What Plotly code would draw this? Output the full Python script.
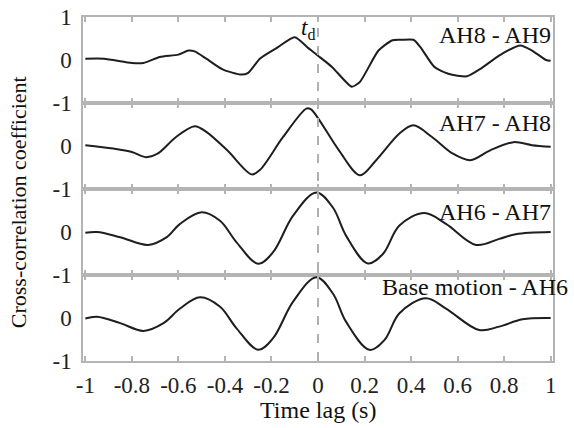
import plotly.graph_objects as go
from plotly.subplots import make_subplots

# ---- data ----
t_ah89 = [-1.0, -0.92, -0.8, -0.75, -0.68, -0.6, -0.557, -0.53, -0.48, -0.41, -0.33, -0.3, -0.25, -0.18, -0.1,
          -0.04, 0.0, 0.06, 0.145, 0.18, 0.26, 0.32, 0.36, 0.41, 0.44, 0.5, 0.56, 0.64, 0.7, 0.78, 0.87, 0.92, 0.98, 1.0]
v_ah89 = [0.03, 0.03, -0.07, -0.07, 0.07, 0.125, 0.22, 0.2, 0.03, -0.22, -0.34, -0.3, 0.03, 0.27, 0.53,
          0.27, 0.1, -0.16, -0.62, -0.51, 0.22, 0.46, 0.47, 0.47, 0.3, -0.16, -0.32, -0.38, -0.2, 0.11, 0.34, 0.22, 0.0, -0.02]

t_ah78 = [-1.0, -0.88, -0.8, -0.74, -0.69, -0.61, -0.53, -0.48, -0.39, -0.285, -0.25, -0.15, -0.05, -0.03, 0.0,
          0.09, 0.18, 0.25, 0.35, 0.41, 0.49, 0.58, 0.655, 0.74, 0.84, 0.92, 1.0]
v_ah78 = [0.02, -0.06, -0.14, -0.26, -0.18, 0.21, 0.46, 0.33, -0.1, -0.66, -0.56, 0.21, 0.87, 0.85, 0.65,
          -0.1, -0.68, -0.33, 0.29, 0.48, 0.21, -0.18, -0.33, -0.1, 0.09, 0.02, -0.02]

t_ah67 = [-1.0, -0.95, -0.85, -0.73, -0.65, -0.593, -0.5, -0.421, -0.35, -0.257, -0.193, -0.107, -0.007, 0.064,
          0.121, 0.214, 0.279, 0.35, 0.457, 0.55, 0.679, 0.779, 0.85, 1.0]
v_ah67 = [-0.02, 0.0, -0.12, -0.3, -0.12, 0.19, 0.46, 0.26, -0.24, -0.74, -0.47, 0.38, 0.92, 0.57,
          -0.09, -0.73, -0.51, 0.15, 0.44, 0.19, -0.3, -0.16, -0.05, 0.0]

t_base = [-1.0, -0.95, -0.85, -0.75, -0.664, -0.593, -0.507, -0.421, -0.35, -0.257, -0.193, -0.107, -0.007, 0.064,
          0.121, 0.221, 0.286, 0.35, 0.464, 0.55, 0.693, 0.779, 0.879, 1.0]
v_base = [-0.01, 0.03, -0.12, -0.3, -0.12, 0.22, 0.48, 0.26, -0.24, -0.74, -0.47, 0.38, 0.95, 0.57,
          -0.09, -0.74, -0.51, 0.11, 0.46, 0.22, -0.28, -0.2, -0.03, 0.0]

panel_labels = ["AH8 - AH9", "AH7 - AH8", "AH6 - AH7", "Base motion - AH6"]
label_y = [0.57, 0.53, 0.47, 0.72]
x_ticks = [-1, -0.8, -0.6, -0.4, -0.2, 0, 0.2, 0.4, 0.6, 0.8, 1]
x_ticktext = ["-1", "-0.8", "-0.6", "-0.4", "-0.2", "0", "0.2", "0.4", "0.6", "0.8", "1"]

series = [(t_ah89, v_ah89), (t_ah78, v_ah78), (t_ah67, v_ah67), (t_base, v_base)]
smooth = [0.6, 0.9, 1.0, 1.0]

FONT = "Liberation Serif, Times New Roman, Times, serif"
GRID = "#b4b4b4"
FS = 23

fig = make_subplots(rows=4, cols=1, shared_xaxes=True, vertical_spacing=0)

for i, (tt, vv) in enumerate(series):
    fig.add_trace(go.Scatter(x=tt, y=vv, mode="lines",
                             line=dict(color="#1e1e1e", width=2, shape="spline", smoothing=smooth[i]),
                             showlegend=False, hoverinfo="skip"), row=i + 1, col=1)

for i in range(4):
    r = i + 1
    fig.update_xaxes(range=[-1.01, 1.01], tickvals=x_ticks, ticktext=x_ticktext,
                     showline=True, linecolor=GRID, linewidth=1.5, mirror="ticks",
                     ticks="inside", ticklen=5, tickcolor=GRID, tickwidth=1.5,
                     showgrid=False, zeroline=False, automargin=False,
                     ticklabeloverflow="allow",
                     tickfont=dict(family=FONT, size=FS, color="#222"),
                     row=r, col=1)
    tv = [-1, 0, 1] if i == 0 else [-1, 0]
    fig.update_yaxes(range=[-1, 1], tickvals=tv, ticktext=[str(v) for v in tv],
                     showline=True, linecolor=GRID, linewidth=1.5, mirror=True,
                     ticks="", showgrid=False, zeroline=False, automargin=False,
                     ticklabelstandoff=5, ticklabeloverflow="allow",
                     tickfont=dict(family=FONT, size=FS, color="#222"),
                     row=r, col=1)

fig.update_xaxes(showticklabels=True, ticklabelstandoff=3, row=4, col=1)

# dashed vertical line at zero lag
fig.add_shape(type="line", xref="x4", yref="paper", x0=0, x1=0, y0=0, y1=1,
              line=dict(color="#b0b0b0", width=2, dash="dash"))

# panel labels
yrefs = ["y", "y2", "y3", "y4"]
for i, lab in enumerate(panel_labels):
    fig.add_annotation(text=lab, xref="paper", x=1.036 if i == 3 else 1.0, xanchor="right",
                       yref=yrefs[i], y=label_y[i], yanchor="middle", showarrow=False,
                       font=dict(family=FONT, size=24, color="#111"))

fig.add_annotation(text="<i>t</i><sub>d</sub>", xref="x", x=0, xanchor="right", xshift=-1,
                   yref="y", y=0.72, yanchor="middle", showarrow=False,
                   font=dict(family=FONT, size=FS, color="#111"))

fig.add_annotation(text="Cross-correlation coefficient", textangle=-90,
                   xref="paper", x=-0.138, xanchor="center",
                   yref="paper", y=0.462, yanchor="middle", showarrow=False,
                   font=dict(family=FONT, size=22, color="#111"))
fig.add_annotation(text="Time lag (s)", xref="paper", x=0.5, xanchor="center",
                   yref="paper", y=-0.143, yanchor="middle", showarrow=False,
                   font=dict(family=FONT, size=24, color="#111"))

fig.update_layout(width=574, height=428, margin=dict(l=83, r=21, t=17, b=67),
                  plot_bgcolor="white", paper_bgcolor="white",
                  font=dict(family=FONT, size=FS, color="#222"))

# draw the figure flush with the page corner (no default body margin), no mode bar
fig.write_html("out.html", config={"displayModeBar": False},
               post_script="document.body.style.margin='0';")
